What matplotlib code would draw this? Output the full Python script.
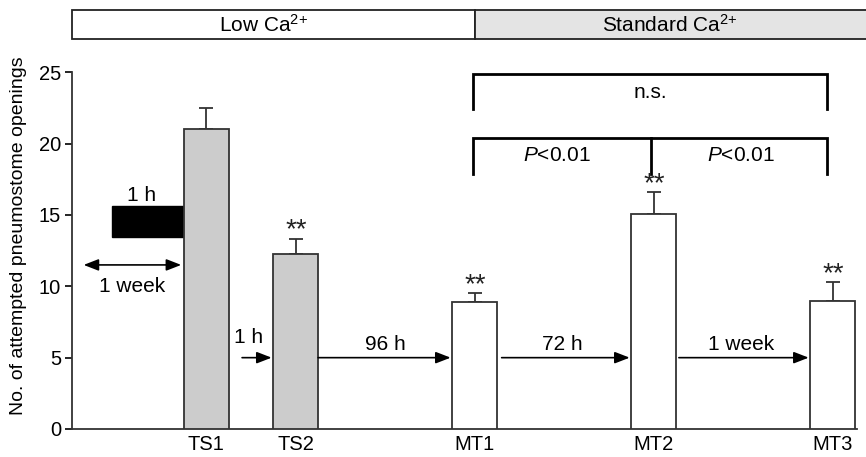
import matplotlib
matplotlib.use("Agg")
import matplotlib.pyplot as plt
from matplotlib.patches import Rectangle

plt.rcParams['font.family'] = ['Liberation Sans', 'DejaVu Sans']
plt.rcParams['mathtext.fontset'] = 'custom'
plt.rcParams['mathtext.rm'] = 'Liberation Sans'
plt.rcParams['mathtext.it'] = 'Liberation Sans:italic'

# Data
categories = ["TS1", "TS2", "MT1", "MT2", "MT3"]
positions = [1, 2, 4, 6, 8]
means = [21.0, 12.3, 8.9, 15.05, 9.0]
errors = [1.5, 1.05, 0.65, 1.55, 1.3]
fills = ["#cccccc", "#cccccc", "white", "white", "white"]
stars = ["", "**", "**", "**", "**"]
interval_labels = ["1 h", "96 h", "72 h", "1 week"]
phase_labels = ["Low Ca$^{2{+}}$", "Standard Ca$^{2{+}}$"]

W, H = 866, 457
fig = plt.figure(figsize=(W / 100, H / 100), dpi=100)
ax = fig.add_axes([72 / W, 1 - 429 / H, 785 / W, (429 - 72.3) / H])

ec = "#333333"
FS = 15
ax.bar(positions, means, width=0.5, color=fills, edgecolor=ec, linewidth=1.3, zorder=3)
ax.errorbar(positions, means, yerr=[[0] * len(errors), errors], fmt="none",
            ecolor=ec, elinewidth=1.3, capsize=5, capthick=1.3, zorder=2)
for x, m, e, s in zip(positions, means, errors, stars):
    if s:
        ax.text(x, m + e + 0.55, s, ha="center", va="center", fontsize=20, color="#222222")

ax.set_xlim(-0.5, 8.27)
ax.set_ylim(0, 25)
ax.set_yticks([0, 5, 10, 15, 20, 25])
ax.set_xticks(positions)
ax.set_xticklabels(categories, fontsize=14.5)
ax.tick_params(axis="x", length=0, pad=4)
ax.tick_params(axis="y", length=5, width=1.2, labelsize=14.5, pad=3)
for s in ["top", "right"]:
    ax.spines[s].set_visible(False)
for s in ["left", "bottom"]:
    ax.spines[s].set_linewidth(1.3)
    ax.spines[s].set_color(ec)
ax.set_ylabel("No. of attempted pneumostome openings", fontsize=14, labelpad=6)
ax.yaxis.set_label_coords(-45 / 785, (429 - 236) / 356.7)

arrow_kw = dict(arrowstyle="-|>,head_length=0.9,head_width=0.35", color="black", lw=1.2,
                shrinkA=0, shrinkB=0)
# 1 week double arrow before TS1
ax.annotate("", xy=(-0.37, 11.5), xytext=(0.72, 11.5),
            arrowprops=dict(arrowstyle="<|-|>,head_length=0.9,head_width=0.35", color="black",
                            lw=1.2, shrinkA=0, shrinkB=0))
ax.text(0.17, 10.0, "1 week", ha="center", va="center", fontsize=FS)
ax.add_patch(Rectangle((-0.05, 13.48), 0.79, 2.17, facecolor="black", edgecolor="black"))
ax.text(0.28, 16.4, "1 h", ha="center", va="center", fontsize=FS)

# intervals between bars
ax.annotate("", xy=(1.73, 5.0), xytext=(1.4, 5.0), arrowprops=arrow_kw)
ax.text(1.47, 6.4, interval_labels[0], ha="center", va="center", fontsize=FS)
ax.annotate("", xy=(3.73, 5.0), xytext=(2.25, 5.0), arrowprops=arrow_kw)
ax.text(3.0, 5.9, interval_labels[1], ha="center", va="center", fontsize=FS)
ax.annotate("", xy=(5.73, 5.0), xytext=(4.3, 5.0), arrowprops=arrow_kw)
ax.text(4.98, 5.9, interval_labels[2], ha="center", va="center", fontsize=FS)
ax.annotate("", xy=(7.73, 5.0), xytext=(6.28, 5.0), arrowprops=arrow_kw)
ax.text(6.97, 5.9, interval_labels[3], ha="center", va="center", fontsize=FS)

# significance brackets
blw = 2.0
ax.plot([3.98, 3.98, 7.94, 7.94], [22.4, 24.9, 24.9, 22.4], color="black", lw=blw,
        clip_on=False, solid_joinstyle="miter")
ax.text(5.96, 23.6, "n.s.", ha="center", va="center", fontsize=FS)
ax.plot([3.98, 3.98, 7.94, 7.94], [17.9, 20.4, 20.4, 17.9], color="black", lw=blw,
        clip_on=False, solid_joinstyle="miter")
ax.plot([5.97, 5.97], [20.4, 17.9], color="black", lw=blw)
ax.text(4.92, 19.2, "$P$<0.01", ha="center", va="center", fontsize=FS)
ax.text(6.97, 19.2, "$P$<0.01", ha="center", va="center", fontsize=FS)

# header boxes
hax = fig.add_axes([0, 0, 1, 1], zorder=-1)
hax.set_xlim(0, W)
hax.set_ylim(H, 0)
hax.axis("off")
hax.add_patch(Rectangle((72, 10), 475 - 72, 29, facecolor="white", edgecolor="#222222", lw=1.3))
hax.add_patch(Rectangle((475, 10), 870 - 475, 29, facecolor="#e4e4e4", edgecolor="#222222", lw=1.3,
                        clip_on=False))
hax.text(263, 25, phase_labels[0], ha="center", va="center", fontsize=FS)
hax.text(670, 25, phase_labels[1], ha="center", va="center", fontsize=FS)

fig.savefig("out.png", dpi=100)
